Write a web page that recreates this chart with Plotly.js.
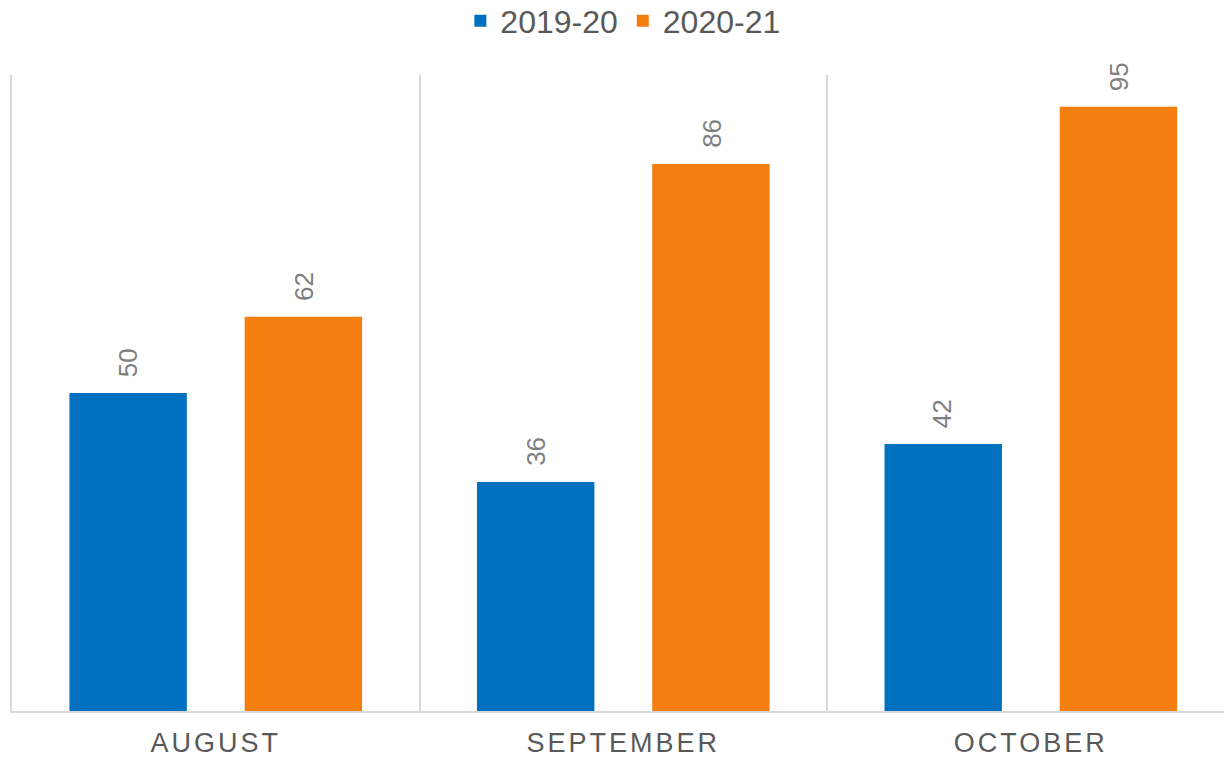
<!DOCTYPE html>
<html>
<head>
<meta charset="utf-8">
<script src="https://cdn.plot.ly/plotly-3.0.1.min.js"></script>
<style>
html,body{margin:0;padding:0;background:#fff;}
#chart{width:1224px;height:764px;}
.xtick text{letter-spacing:3px;}
</style>
</head>
<body>
<div id="chart"></div>
<script>
const categories = ["AUGUST", "SEPTEMBER", "OCTOBER"];
const series1Name = "2019-20";
const series2Name = "2020-21";
const series1 = [50, 36, 42];
const series2 = [62, 86, 95];

const blue = "#0070C0";
const orange = "#F47F10";
const labelFont = {family: "Liberation Sans, Arial, sans-serif", size: 26, color: "#7F7F7F"};

const traces = [
  {type: "bar", name: series1Name, x: categories, y: series1, marker: {color: blue}, hoverinfo: "x+y"},
  {type: "bar", name: series2Name, x: categories, y: series2, marker: {color: orange}, hoverinfo: "x+y"}
];

const annotations = [];
[[series1, -88], [series2, 88]].forEach(([vals, shift]) => {
  vals.forEach((v, i) => {
    annotations.push({
      x: categories[i], y: v, xref: "x", yref: "y",
      text: String(v), showarrow: false, textangle: -90,
      xshift: shift, yshift: 14, yanchor: "bottom", xanchor: "center",
      font: labelFont
    });
  });
});

const layout = {
  width: 1224, height: 764,
  margin: {l: 12, r: 0, t: 75, b: 53, autoexpand: false},
  paper_bgcolor: "#fff", plot_bgcolor: "#fff",
  barmode: "group", bargap: 0.14, bargroupgap: 0.33,
  showlegend: true,
  legend: {orientation: "h", x: 0.504, xanchor: "center", y: 1.085, yanchor: "middle",
           font: {family: "Liberation Sans, Arial, sans-serif", size: 32, color: "#595959"}, itemclick: false},
  xaxis: {
    type: "category", range: [-0.5, 2.474], tickson: "boundaries",
    showgrid: true, gridcolor: "#D9D9D9", gridwidth: 2,
    showline: true, linecolor: "#D9D9D9", linewidth: 2,
    ticks: "", ticklabelstandoff: 7, automargin: false,
    tickfont: {family: "Liberation Sans, Arial, sans-serif", size: 27, color: "#595959"},
    fixedrange: true
  },
  yaxis: {
    range: [0, 100], showgrid: false, showticklabels: false, zeroline: false,
    showline: true, linecolor: "#D9D9D9", linewidth: 2, ticks: "", automargin: false,
    fixedrange: true
  },
  annotations: annotations
};

Plotly.newPlot("chart", traces, layout, {displayModeBar: false, staticPlot: true});
</script>
</body>
</html>
